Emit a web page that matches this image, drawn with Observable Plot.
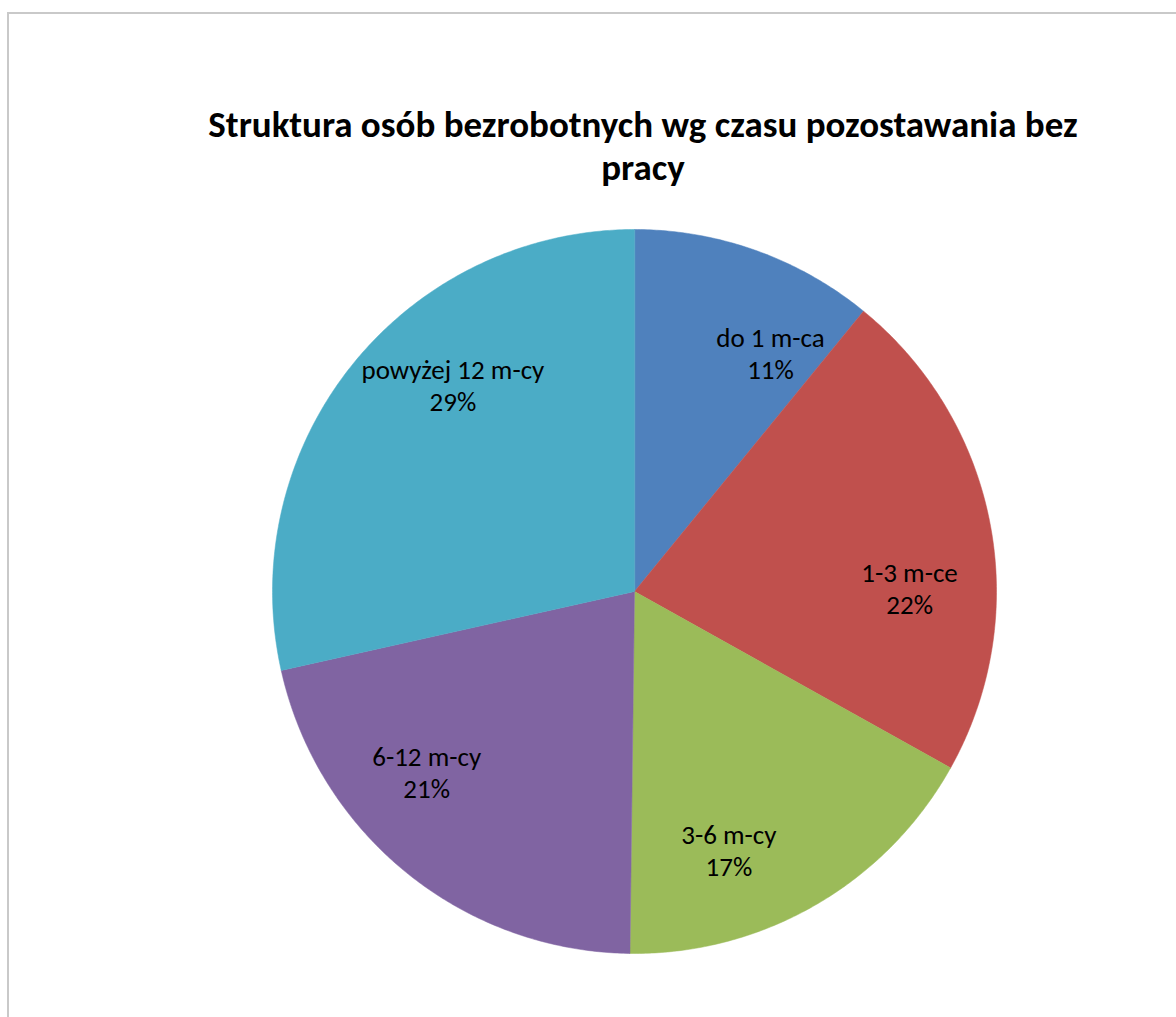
<!DOCTYPE html>
<html>
<head>
<meta charset="utf-8">
<script src="https://cdn.jsdelivr.net/npm/d3@7"></script>
<script src="https://cdn.jsdelivr.net/npm/@observablehq/plot@0.6"></script>
<style>
  html, body { margin: 0; padding: 0; background: #fff; overflow: hidden; }
  #wrap { position: relative; width: 1176px; height: 1017px; overflow: hidden; }
  #frame { position: absolute; left: 7px; top: 12px; width: 1400px; height: 1200px; border: 2px solid #c9c9c9; box-sizing: border-box; }
  #title { position: absolute; left: 0; width: 1286px; top: 103px; text-align: center;
           font-family: Carlito, Calibri, Lato, "Open Sans", sans-serif; font-weight: bold;
           font-size: 37px; line-height: 43px; color: #000; white-space: nowrap; }
  #chart { position: absolute; left: 0; top: 0; }
</style>
</head>
<body>
<div id="wrap">
  <div id="frame"></div>
  <div id="chart"></div>
  <div id="title">Struktura osób bezrobotnych wg czasu pozostawania bez<br>pracy</div>
</div>
<script>
const categories = ["do 1 m-ca", "1-3 m-ce", "3-6 m-cy", "6-12 m-cy", "powyżej 12 m-cy"];
const values = [10.9, 22.2, 17.1, 21.3, 28.5];
const percentLabels = ["11%", "22%", "17%", "21%", "29%"];
const colors = ["#4F81BD", "#C0504D", "#9BBB59", "#8064A2", "#4BACC6"];

const W = 1176, H = 1017, cx = 634, cy = 591, R = 362;

const arcs = d3.pie().sort(null).value(d => d)(values);
const polyPoints = [];
arcs.forEach((a, i) => {
  polyPoints.push({cat: categories[i], x: 0, y: 0});
  const n = Math.max(2, Math.ceil((a.endAngle - a.startAngle) / (Math.PI / 360)));
  for (let k = 0; k <= n; k++) {
    const t = a.startAngle + (a.endAngle - a.startAngle) * k / n;
    polyPoints.push({cat: categories[i], x: Math.sin(t), y: Math.cos(t)});
  }
});

const labelShift = 10 * Math.PI / 180, labelR = 0.76;
const labelData = arcs.map((a, i) => {
  const m = (a.startAngle + a.endAngle) / 2 + labelShift;
  return {x: labelR * Math.sin(m), y: labelR * Math.cos(m), text: categories[i] + "\n" + percentLabels[i]};
});

const plot = Plot.plot({
  width: W, height: H, margin: 0,
  x: {domain: [-cx / R, (W - cx) / R], axis: null},
  y: {domain: [-(H - cy) / R, cy / R], axis: null},
  color: {domain: categories, range: colors},
  style: {background: "transparent"},
  marks: [
    Plot.line(polyPoints, {x: "x", y: "y", z: "cat", fill: "cat", stroke: "cat", strokeWidth: 0.5, curve: "linear-closed"}),
    Plot.text(labelData, {x: "x", y: "y", text: "text", fontSize: 27, lineHeight: 1.185, fill: "#000",
      fontFamily: "Carlito, Calibri, Lato, 'Open Sans', sans-serif"})
  ]
});
document.getElementById("chart").appendChild(plot);
</script>
</body>
</html>
